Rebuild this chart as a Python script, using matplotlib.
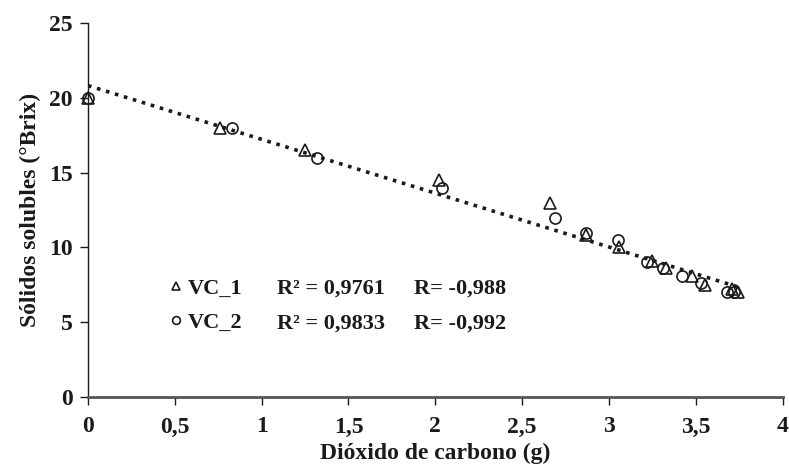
"""Sólidos solubles vs dióxido de carbono — VC_1 / VC_2 with linear trend."""

import matplotlib
matplotlib.use("Agg")
import matplotlib.pyplot as plt
import numpy as np

plt.rcParams["font.family"] = ["Liberation Serif", "DejaVu Serif"]
plt.rcParams["font.weight"] = "bold"

# ── data ──
vc1_co2 = [0.0, 0.76, 1.25, 2.02, 2.66, 2.87, 3.06, 3.25, 3.33, 3.48, 3.55, 3.71, 3.74]
vc1_brix = [20.0, 18.0, 16.5, 14.5, 13.0, 10.8, 10.0, 9.1, 8.6, 8.1, 7.5, 7.2, 7.0]
vc2_co2 = [0.0, 0.83, 1.32, 2.04, 2.69, 2.87, 3.05, 3.22, 3.31, 3.42, 3.53, 3.68, 3.72]
vc2_brix = [20.0, 18.0, 16.0, 14.0, 12.0, 11.0, 10.5, 9.0, 8.6, 8.1, 7.6, 7.0, 7.0]

x_ticks = [0, 0.5, 1, 1.5, 2, 2.5, 3, 3.5, 4]
x_ticklabels = ["0", "0,5", "1", "1,5", "2", "2,5", "3", "3,5", "4"]
y_ticks = [0, 5, 10, 15, 20, 25]

stats_rows = [
    ("R² = 0,9761", "R= -0,988"),
    ("R² = 0,9833", "R= -0,992"),
]

INK = "#1a1a1a"
SPINE = "#555555"

fig = plt.figure(figsize=(7.89, 4.71), dpi=100)
ax = fig.add_axes([0.1115, 0.157, 0.8805, 0.794])

# Linear trend on the pooled data (dotted, drawn first)
all_x = np.array(vc1_co2 + vc2_co2)
all_y = np.array(vc1_brix + vc2_brix)
slope, intercept = np.polyfit(all_x, all_y, 1)
xx = np.array([0.0, all_x.max() + 0.02])
ax.plot(xx, slope * xx + intercept, linestyle=(0, (1, 1.6)),
        color=INK, linewidth=2.6, zorder=2)

h1, = ax.plot(vc1_co2, vc1_brix, linestyle="none", marker="^",
              markersize=8, markerfacecolor="none", markeredgecolor=INK,
              markeredgewidth=1.2, label="VC_1", zorder=3, clip_on=False)
h2, = ax.plot(vc2_co2, vc2_brix, linestyle="none", marker="o",
              markersize=8, markerfacecolor="none", markeredgecolor=INK,
              markeredgewidth=1.2, label="VC_2", zorder=3, clip_on=False)

# Legend: markers + series names, with the fit stats as plain text
leg = ax.legend(handles=[h1, h2], loc="center left",
                bbox_to_anchor=(0.118, 0.244), frameon=False,
                handlelength=0.5, handletextpad=0.3, labelspacing=0.6,
                markerscale=0.7, borderpad=0, borderaxespad=0,
                prop={"size": 16, "weight": "bold"})
for t in leg.get_texts():
    t.set_color(INK)

for i, (r2, r) in enumerate(stats_rows):
    y = 0.291 - i * 0.095
    ax.text(0.272, y, r2, transform=ax.transAxes, fontsize=16,
            fontweight="bold", color=INK, va="center")
    ax.text(0.470, y, r, transform=ax.transAxes, fontsize=16,
            fontweight="bold", color=INK, va="center")

ax.set_xlim(0, 4)
ax.set_ylim(0, 25)
ax.set_xticks(x_ticks)
ax.set_xticklabels(x_ticklabels)
ax.set_yticks(y_ticks)

ax.spines["top"].set_visible(False)
ax.spines["right"].set_visible(False)
ax.spines["left"].set_color(INK)
ax.spines["left"].set_linewidth(1.0)
ax.spines["bottom"].set_color(SPINE)
ax.spines["bottom"].set_linewidth(2.0)
ax.tick_params(axis="both", direction="out", length=6, width=1.0,
               colors=INK, labelsize=17, pad=5)
ax.tick_params(axis="x", pad=8)

ax.set_xlabel("Dióxido de carbono (g)", fontsize=17, fontweight="bold",
              color=INK, labelpad=4)
ax.set_ylabel("Sólidos solubles (°Brix)", fontsize=17, fontweight="bold",
              color=INK, labelpad=6)

fig.savefig("out.png", dpi=100, facecolor="white")
